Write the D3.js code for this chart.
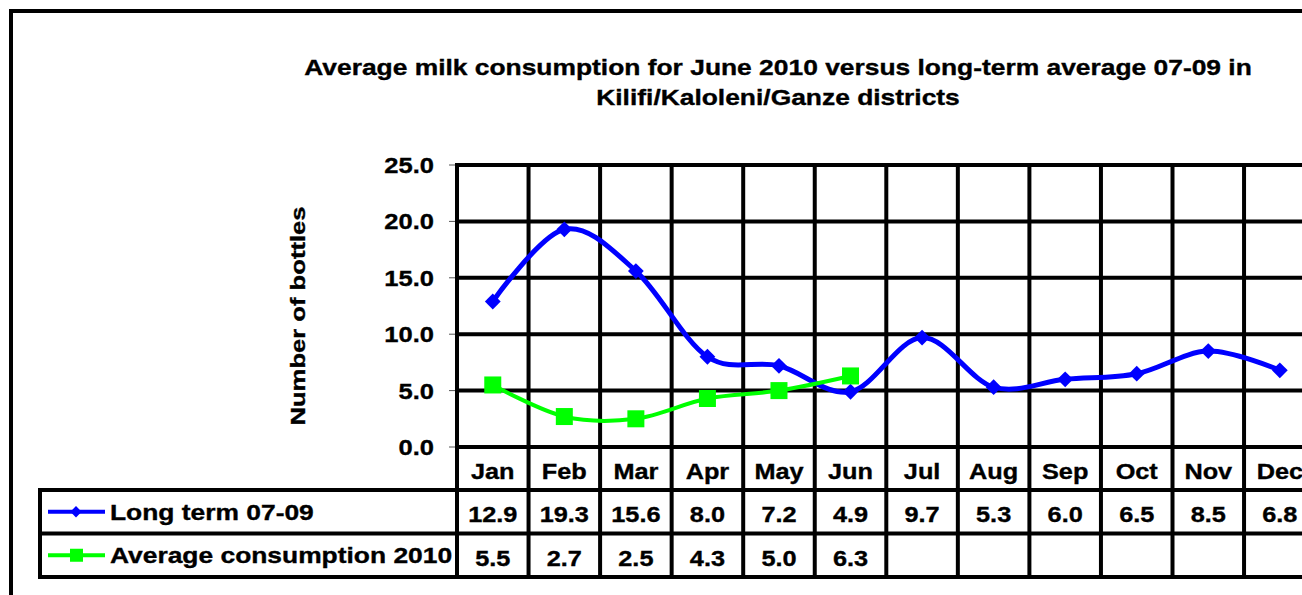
<!DOCTYPE html>
<html>
<head>
<meta charset="utf-8">
<script src="https://cdn.jsdelivr.net/npm/d3@7"></script>
<style>
  html, body { margin: 0; padding: 0; background: #fff; overflow: hidden; }
  text { font-family: "Liberation Sans", Arial, sans-serif; font-weight: bold; fill: #000; stroke: #000; stroke-width: 0.35px; }
</style>
</head>
<body>
<svg id="chart" width="1302" height="595"></svg>
<script>
// data
var months = ["Jan","Feb","Mar","Apr","May","Jun","Jul","Aug","Sep","Oct","Nov","Dec"];
var longTerm = [12.9, 19.3, 15.6, 8.0, 7.2, 4.9, 9.7, 5.3, 6.0, 6.5, 8.5, 6.8];
var avg2010 = [5.5, 2.7, 2.5, 4.3, 5.0, 6.3];
var yTicks = [0, 5, 10, 15, 20, 25];
var seriesNames = ["Long term 07-09", "Average consumption 2010"];
var titleLines = ["Average milk consumption for June 2010 versus long-term average 07-09 in",
                  "Kilifi/Kaloleni/Ganze districts"];
var yLabel = "Number of bottles";

var svg = d3.select("#chart");
var stretch = 1.2;   // text in the original is widened
var plotL = 457, plotT = 165, plotB = 447, bandW = 71.55;
var rowTop = 490, rowH = 43.5, legendL = 40;

var x = d3.scaleBand().domain(months).range([plotL, plotL + bandW * 12]);
var y = d3.scaleLinear().domain([0, 25]).range([plotB, plotT]);

function stext(g, tx, ty, str, size, anchor, rot, sx){
  var tr = "translate(" + tx + "," + ty + ")" + (rot ? " rotate(" + rot + ")" : "") + " scale(" + (sx || stretch) + ",1)";
  return g.append("text").attr("transform", tr).attr("text-anchor", anchor || "middle")
    .style("font-size", size + "px").text(str);
}

// outer frame
svg.append("rect").attr("x", 11).attr("y", 11).attr("width", 1400).attr("height", 700)
  .attr("fill", "none").attr("stroke", "#000").attr("stroke-width", 4);

// title
titleLines.forEach(function(t, i){ stext(svg, 778, 75 + i * 30, t, 22); });

// y axis label
stext(svg, 305, 316, yLabel, 21, "middle", -90, 1.22);

var grid = svg.append("g");
// horizontal gridlines
grid.selectAll("line.h").data(yTicks).enter().append("line")
  .attr("x1", plotL).attr("x2", x.range()[1]).attr("y1", d => y(d)).attr("y2", d => y(d))
  .attr("stroke", "#000").attr("stroke-width", 4);
// tick marks
grid.selectAll("line.t").data(yTicks).enter().append("line")
  .attr("x1", plotL - 8).attr("x2", plotL).attr("y1", d => y(d)).attr("y2", d => y(d))
  .attr("stroke", "#555").attr("stroke-width", 1);
// tick labels
yTicks.forEach(function(d){ stext(svg, 434, y(d) + 8, d.toFixed(1), 22, "end", 0, 1.16); });

// vertical lines through plot and table
var vx = months.map(m => x(m)).concat([x.range()[1]]);
grid.selectAll("line.v").data(vx).enter().append("line")
  .attr("x1", d => d).attr("x2", d => d).attr("y1", plotT - 2).attr("y2", rowTop + 2 * rowH + 2)
  .attr("stroke", "#000").attr("stroke-width", 4);

// table rows
[rowTop, rowTop + rowH, rowTop + 2 * rowH].forEach(function(ry){
  grid.append("line").attr("x1", legendL - 2).attr("x2", x.range()[1]).attr("y1", ry).attr("y2", ry)
    .attr("stroke", "#000").attr("stroke-width", 4);
});
grid.append("line").attr("x1", legendL).attr("x2", legendL).attr("y1", rowTop - 2).attr("y2", rowTop + 2 * rowH + 2)
  .attr("stroke", "#000").attr("stroke-width", 4);

// month header
months.forEach(function(m){ stext(svg, x(m) + bandW / 2, plotB + 32, m, 22, "middle", 0, 1.15); });
// table values
longTerm.forEach(function(v, i){ stext(svg, x(months[i]) + bandW / 2, rowTop + 32, v.toFixed(1), 22, "middle", 0, 1.15); });
avg2010.forEach(function(v, i){ stext(svg, x(months[i]) + bandW / 2, rowTop + rowH + 32, v.toFixed(1), 22, "middle", 0, 1.15); });

// series
var line = d3.line().x((d, i) => x(months[i]) + bandW / 2).y(d => y(d)).curve(d3.curveCardinal.tension(0));
var diamond = d3.symbol().type(d3.symbolSquare).size(125);

svg.append("path").datum(longTerm).attr("d", line).attr("fill", "none")
  .attr("stroke", "#0000ff").attr("stroke-width", 5);
svg.append("path").datum(avg2010).attr("d", line).attr("fill", "none")
  .attr("stroke", "#00ff00").attr("stroke-width", 4);

svg.selectAll("path.dm").data(longTerm).enter().append("path")
  .attr("d", diamond)
  .attr("transform", (d, i) => "translate(" + (x(months[i]) + bandW / 2) + "," + y(d) + ") rotate(45)")
  .attr("fill", "#0000ff");
svg.selectAll("rect.sq").data(avg2010).enter().append("rect")
  .attr("x", (d, i) => x(months[i]) + bandW / 2 - 8.5).attr("y", d => y(d) - 8.5)
  .attr("width", 17).attr("height", 17).attr("fill", "#00ff00");

// legend keys in table
var keyColors = ["#0000ff", "#00ff00"];
seriesNames.forEach(function(name, i){
  var cy = rowTop + rowH * i + rowH / 2;
  svg.append("line").attr("x1", 48).attr("x2", 105).attr("y1", cy).attr("y2", cy)
    .attr("stroke", keyColors[i]).attr("stroke-width", 4);
  if (i === 0) {
    svg.append("path").attr("d", d3.symbol().type(d3.symbolSquare).size(64))
      .attr("transform", "translate(76," + cy + ") rotate(45)").attr("fill", keyColors[i]);
  } else {
    svg.append("rect").attr("x", 70).attr("y", cy - 6.5).attr("width", 13).attr("height", 13).attr("fill", keyColors[i]);
  }
  stext(svg, 110, cy + 8, name, 22, "start", 0, 1.2);
});
</script>
</body>
</html>
